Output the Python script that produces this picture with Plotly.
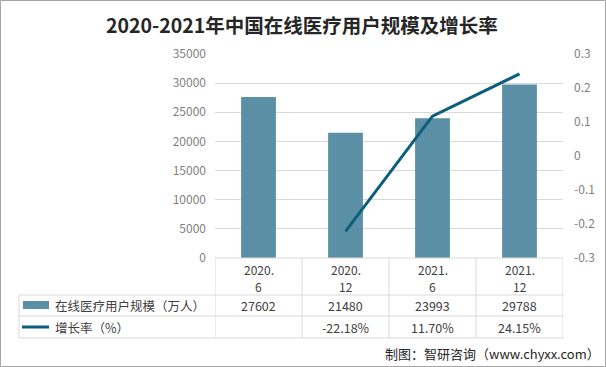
import plotly.graph_objects as go

categories = ["2020.<br>6", "2020.<br>12", "2021.<br>6", "2021.<br>12"]
users = [27602, 21480, 23993, 29788]
growth = [None, -0.2218, 0.1170, 0.2415]
growth_labels = ["", "-22.18%", "11.70%", "24.15%"]
series_names = ["在线医疗用户规模（万人）", "增长率（%）"]
left_ticks = [0, 5000, 10000, 15000, 20000, 25000, 30000, 35000]
right_ticks = [-0.3, -0.2, -0.1, 0, 0.1, 0.2, 0.3]
right_tick_labels = ["-0.3", "-0.2", "-0.1", "0", "0.1", "0.2", "0.3"]
title_text = "2020-2021年中国在线医疗用户规模及增长率"
source_text = "制图：智研咨询（www.chyxx.com）"

W, H = 606, 367
L, R, T, B = 215, 43, 54, 109
PW, PH = W - L - R, H - T - B

def px(x):
    return (x - L) / PW

def py(y):
    return (H - B - y) / PH

BAR = "#5B8FA6"
LINE = "#0B5F7D"
GRID = "#D9D9D9"
TXT = "#404040"
AX = "#7F7F7F"
FONT = "Noto Sans CJK SC, Microsoft YaHei, sans-serif"

xs = list(range(len(categories)))

fig = go.Figure()
fig.add_trace(go.Bar(x=xs, y=users, marker=dict(color=BAR, line=dict(width=0)),
                     width=0.4, name=series_names[0], yaxis="y", showlegend=False))
fig.add_trace(go.Scatter(x=xs, y=growth, mode="lines", line=dict(color=LINE, width=3),
                         name=series_names[1], yaxis="y2", showlegend=False,
                         connectgaps=False))

shapes = []
annotations = []

# table lines
tbl_left, tbl_right = 19, 564
row_lines = [295, 316, 338]
for yy in row_lines:
    shapes.append(dict(type="line", xref="paper", yref="paper", x0=px(tbl_left), x1=px(tbl_right),
                       y0=py(yy), y1=py(yy), line=dict(color=GRID, width=1)))
shapes.append(dict(type="line", xref="paper", yref="paper", x0=px(tbl_left), x1=px(tbl_left),
                   y0=py(295), y1=py(338), line=dict(color=GRID, width=1)))
for i in range(len(categories) + 1):
    shapes.append(dict(type="line", xref="x", yref="paper", x0=i - 0.5, x1=i - 0.5,
                       y0=py(258), y1=py(338), line=dict(color=GRID, width=1)))
shapes.append(dict(type="line", xref="paper", yref="paper", x0=0, x1=1,
                   y0=0, y1=0, line=dict(color=GRID, width=1)))

# legend keys in table
shapes.append(dict(type="rect", xref="paper", yref="paper", x0=px(23), x1=px(49),
                   y0=py(309), y1=py(301), fillcolor=BAR, line=dict(width=0)))
shapes.append(dict(type="line", xref="paper", yref="paper", x0=px(22), x1=px(49),
                   y0=py(327), y1=py(327), line=dict(color=LINE, width=3)))
annotations.append(dict(text=series_names[0], xref="paper", yref="paper", x=px(53), y=py(305),
                        xanchor="left", yanchor="middle", showarrow=False,
                        font=dict(size=12.5, color=TXT, family=FONT)))
annotations.append(dict(text=series_names[1], xref="paper", yref="paper", x=px(53), y=py(327),
                        xanchor="left", yanchor="middle", showarrow=False,
                        font=dict(size=12.5, color=TXT, family=FONT)))

for i in xs:
    parts = categories[i].split("<br>")
    for j, part in enumerate(parts):
        annotations.append(dict(text=part, xref="x", yref="paper", x=i, y=py(269 + 17 * j),
                                xanchor="center", yanchor="middle", showarrow=False,
                                borderpad=0, font=dict(size=12, color=TXT, family=FONT)))
    annotations.append(dict(text=str(users[i]), xref="x", yref="paper", x=i, y=py(305),
                            xanchor="center", yanchor="middle", showarrow=False,
                            font=dict(size=12.5, color=TXT, family=FONT)))
    annotations.append(dict(text=growth_labels[i], xref="x", yref="paper", x=i, y=py(327),
                            xanchor="center", yanchor="middle", showarrow=False,
                            font=dict(size=12.5, color=TXT, family=FONT)))

annotations.append(dict(text="<b>" + title_text + "</b>", xref="paper", yref="paper",
                        x=px(302), y=py(24), xanchor="center", yanchor="middle", showarrow=False,
                        font=dict(size=19.5, color="#262626", family=FONT)))
annotations.append(dict(text=source_text, xref="paper", yref="paper",
                        x=px(602), y=py(353), xanchor="right", yanchor="middle", showarrow=False,
                        font=dict(size=13, color="#262626", family=FONT)))

# outer border
shapes.append(dict(type="rect", xref="paper", yref="paper", x0=px(0.5), x1=px(605.5),
                   y0=py(366.5), y1=py(0.5), line=dict(color="#A6A6A6", width=1)))

fig.update_layout(
    width=W, height=H,
    margin=dict(l=L, r=R, t=T, b=B, pad=0, autoexpand=False),
    paper_bgcolor="white", plot_bgcolor="white",
    font=dict(family=FONT, color=AX, size=12),
    xaxis=dict(range=[-0.5, 3.5], showticklabels=False, showgrid=False, zeroline=False,
               ticks="", fixedrange=True, automargin=False),
    yaxis=dict(range=[0, 35000], tickmode="array", tickvals=left_ticks,
               ticktext=[str(v) for v in left_ticks], showgrid=True, gridcolor=GRID, gridwidth=1,
               zeroline=False, showline=False, ticks="", ticklabelstandoff=8, automargin=False,
               tickfont=dict(size=12, color=AX, family=FONT)),
    yaxis2=dict(range=[-0.3, 0.3], tickmode="array", tickvals=right_ticks, ticktext=right_tick_labels,
                overlaying="y", side="right", showgrid=False, automargin=False,
                zeroline=False, showline=False, ticks="", ticklabelstandoff=10,
                tickfont=dict(size=12, color=AX, family=FONT)),
    shapes=shapes, annotations=annotations, bargap=0.6,
)

fig.write_html("out.html", config={"displayModeBar": False},
               post_script="document.body.style.margin='0';document.body.style.overflow='hidden';")
